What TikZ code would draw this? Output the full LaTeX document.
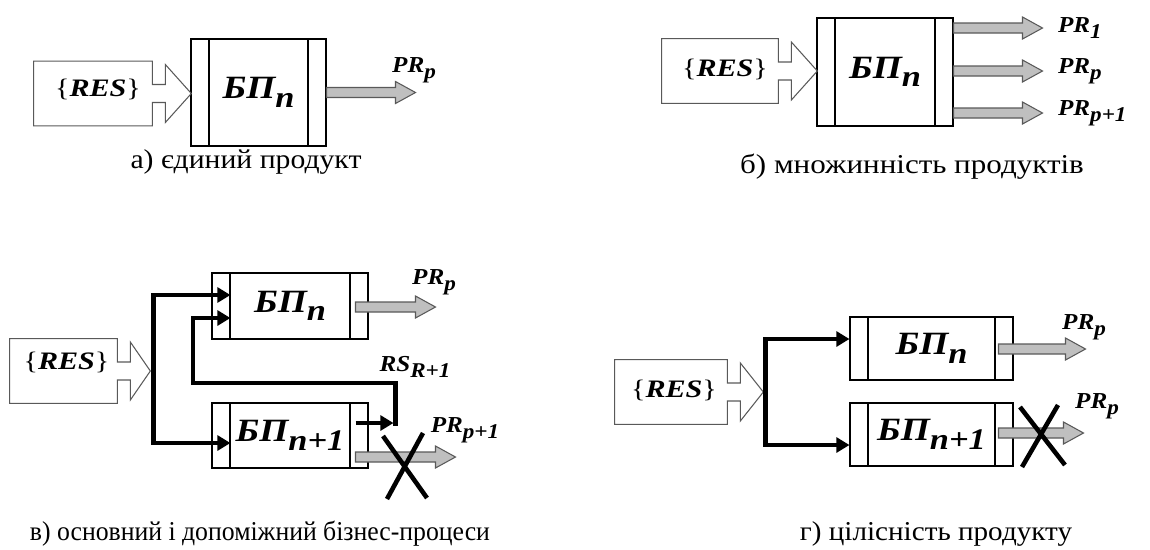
\documentclass[tikz,border=0pt]{standalone}
\usepackage{fontspec}
\usepackage{graphicx}
\setmainfont{Liberation Serif}
\usetikzlibrary{arrows.meta,calc}

\definecolor{outgray}{gray}{0.35}
\definecolor{fillgray}{gray}{0.75}

% bold italic label with a lowered index
\newcommand\idx[1]{\raisebox{-0.26em}{\scalebox{0.92}{#1}}}
\newcommand\bp[1]{\scalebox{1.15}[1]{\bfseries\itshape БП\idx{#1}}}
\newcommand\lbl[2]{\scalebox{1.1}[1]{\bfseries\itshape #1\idx{#2}}}
\newcommand\res{\scalebox{1.2}[1]{\{\textbf{\textit{RES}}\}}}
% hollow arrow out of the resource box
\newcommand\resarrow[2]{\draw[resline] (#1.north west) -- (#1.north east) -- ($(#1.east)+(0,-9)$)
  -- ($(#1.east)+(13,-9)$) -- ($(#1.east)+(13,-29)$) -- ($(#1.east)+(#2,0)$) -- ($(#1.east)+(13,29)$)
  -- ($(#1.east)+(13,9)$) -- ($(#1.east)+(0,9)$) -- (#1.south east) -- (#1.south west) -- cycle;}
% grey product arrow
\newcommand\prarrow[2]{\draw[prline] #1 ++(0,-5) -- ++({#2-20},0) -- ++(0,-6) -- ++(20,11)
  -- ++(-20,11) -- ++(0,-6) -- ++({20-#2},0) -- cycle;}

\begin{document}
\begin{tikzpicture}[x=0.02cm,y=-0.02cm,
    proc/.style={draw,line width=0.6pt,inner sep=0pt,font=\fontsize{18.5}{20}\selectfont,
      path picture={\draw[line width=0.6pt]
        ([xshift=0.36cm]path picture bounding box.north west) -- ([xshift=0.36cm]path picture bounding box.south west)
        ([xshift=-0.36cm]path picture bounding box.north east) -- ([xshift=-0.36cm]path picture bounding box.south east);}},
    res/.style={inner sep=0pt,minimum height=1.28cm},
    reslab/.style={inner sep=0pt,font=\fontsize{14.3}{16}\selectfont},
    resline/.style={draw=outgray,line width=0.6pt},
    prline/.style={draw=outgray,fill=fillgray,line width=0.6pt},
    prlab/.style={inner sep=1pt,font=\fontsize{13}{15}\selectfont},
    caption/.style={inner sep=1pt,font=\fontsize{15.5}{17}\selectfont},
    flow/.style={line width=2.6pt,-{Triangle[length=7.5pt,width=8.5pt]}},
    crossline/.style={line width=2.6pt}]
  \useasboundingbox (0,0) rectangle (1150,549);

  % a) single product
  \node[res,minimum width=2.36cm,label={[reslab,shift={(5,-4)}]center:\res}] (Ra) at (93,93.5) {};
  \node[proc,minimum width=2.7cm,minimum height=2.14cm] (Pa) at (258.5,92.5) {\bp{n}};
  \resarrow{Ra}{39}
  \prarrow{(Pa.east)}{89}
  \node[prlab] (La) at (414,70) {\lbl{PR}{p}};
  \node[caption] (Ca) at (246,162) {\scalebox{1.09}[1]{а) єдиний продукт}};

  % b) many products
  \node[res,minimum width=2.32cm,label={[reslab,shift={(5,-2)}]center:\res}] (Rb) at (720,71) {};
  \node[proc,minimum width=2.72cm,minimum height=2.16cm] (Pb) at (885,72) {\bp{n}};
  \resarrow{Rb}{39}
  \prarrow{($(Pb.east)+(0,-44)$)}{89}
  \prarrow{($(Pb.east)+(0,-1)$)}{89}
  \prarrow{($(Pb.east)+(0,41)$)}{89}
  \node[prlab,anchor=west] (Lb1) at (1056,28) {\lbl{PR}{1}};
  \node[prlab,anchor=west] (Lb2) at (1056,71) {\lbl{PR}{p}};
  \node[prlab,anchor=west] (Lb3) at (1056,113) {\lbl{PR}{p+1}};
  \node[caption] (Cb) at (912,167) {\scalebox{1.14}[1]{б) множинність продуктів}};

  % c) main and auxiliary processes
  \node[res,minimum width=2.14cm,label={[reslab,shift={(3,-9)}]center:\res}] (Rc) at (63.5,371) {};
  \node[proc,minimum width=3.12cm,minimum height=1.32cm] (Pc1) at (290,306) {\bp{n}};
  \node[proc,minimum width=3.12cm,minimum height=1.3cm] (Pc2) at (290,435.5) {\bp{n+1}};
  \resarrow{Rc}{33}
  \coordinate (jc) at ($(Rc.east)+(36,0)$);
  \coordinate (fc) at (193,383);
  \draw[flow] (jc) |- ($(Pc1.west)+(19,-11)$);
  \draw[flow] (jc) |- ($(Pc2.west)+(19,7.5)$);
  \draw[flow] ($(Pc2.east)+(-13,-12.5)$) -- ++(38,0);
  \draw[flow] ($(Pc2.east)+(27,-10)$) |- (fc) |- ($(Pc1.west)+(19,12)$);
  \prarrow{($(Pc1.east)+(-13,1)$)}{80}
  \prarrow{($(Pc2.east)+(-13,21.5)$)}{100}
  \node[prlab] (Lc1) at (434,282) {\lbl{PR}{p}};
  \node[prlab] (Lc2) at (415,367) {\lbl{RS}{R+1}};
  \node[prlab] (Lc3) at (465,430) {\lbl{PR}{p+1}};
  \coordinate (xc) at (405,467);
  \draw[crossline] ($(xc)+(-22,-31)$) -- ($(xc)+(22,31)$) ($(xc)+(18,-34)$) -- ($(xc)+(-18,32)$);
  \node[caption] (Cc) at (260,534) {\scalebox{0.945}[1]{в) основний і допоміжний бізнес-процеси}};

  % d) product integrity
  \node[res,minimum width=2.24cm,label={[reslab,shift={(3,-2)}]center:\res}] (Rd) at (671,392) {};
  \node[proc,minimum width=3.26cm,minimum height=1.26cm] (Pd1) at (931.5,348.5) {\bp{n}};
  \node[proc,minimum width=3.26cm,minimum height=1.26cm] (Pd2) at (931.5,434.5) {\bp{n+1}};
  \resarrow{Rd}{36}
  \coordinate (jd) at ($(Rd.east)+(38,0)$);
  \draw[flow] (jd) |- ($(Pd1.west)+(0,-9.5)$);
  \draw[flow] (jd) |- ($(Pd2.west)+(0,10.5)$);
  \prarrow{($(Pd1.east)+(-15,0.5)$)}{87}
  \prarrow{($(Pd2.east)+(-15,-1.5)$)}{85}
  \node[prlab] (Ld1) at (1084,327) {\lbl{PR}{p}};
  \node[prlab] (Ld2) at (1097,406) {\lbl{PR}{p}};
  \coordinate (xd) at (1041,436);
  \draw[crossline] ($(xd)+(-21,-29)$) -- ($(xd)+(24,29)$) ($(xd)+(17,-31)$) -- ($(xd)+(-19,31)$);
  \node[caption] (Cd) at (936,534) {\scalebox{1.07}[1]{г) цілісність продукту}};
\end{tikzpicture}
\end{document}
